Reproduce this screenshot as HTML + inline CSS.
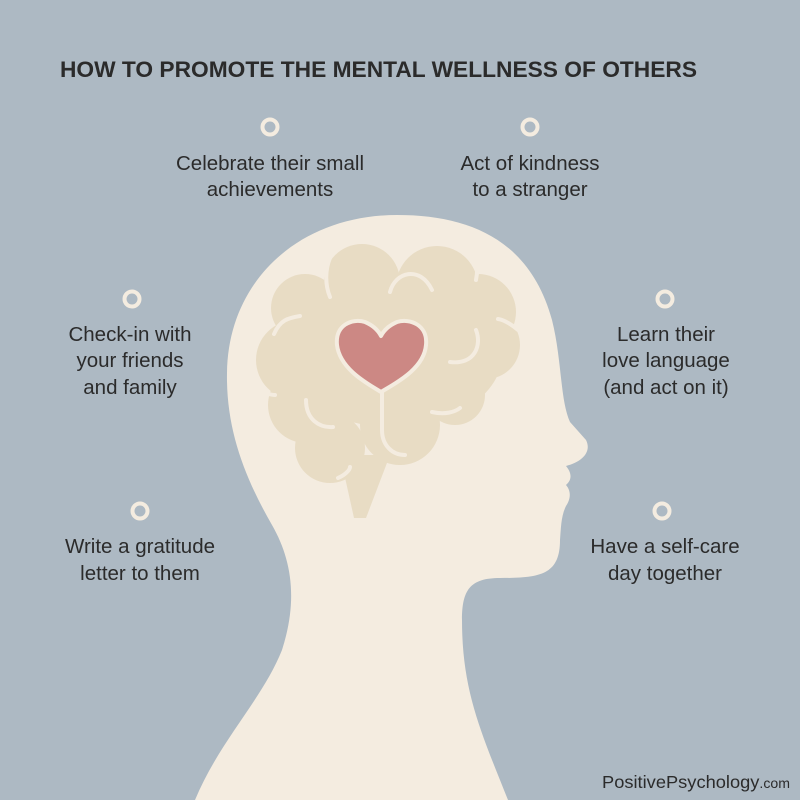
<!DOCTYPE html>
<html><head><meta charset="utf-8"><style>
html,body{margin:0;padding:0;background:#adb9c3;}
svg{display:block;}
text{font-family:"Liberation Sans",sans-serif;fill:#2b2b2b;}
</style></head><body>
<svg width="800" height="800" viewBox="0 0 800 800">
<rect width="800" height="800" fill="#adb9c3"/>
<path d="M397,215 C470,215 530,240 552,320 C562,360 560,400 570,422 L586,440 C592,452 582,462 566,466 C571,472 573,479 566,485 C572,492 570,500 566,506 C561,516 561,528 560,540 C560,575 540,578 500,578 C470,578 462,590 462,620 C462,690 480,730 508,800 L195,800 C220,740 262,700 282,650 C298,600 292,560 272,525 C245,478 226,430 227,373 C228,280 300,215 397,215 Z" fill="#f4ece0"/>
<g fill="#e8dcc4">
<ellipse cx="392" cy="355" rx="110" ry="72"/>
<circle cx="362" cy="282" r="38"/>
<circle cx="437" cy="287" r="41"/>
<circle cx="478" cy="312" r="38"/>
<circle cx="486" cy="345" r="34"/>
<circle cx="305" cy="308" r="34"/>
<circle cx="296" cy="360" r="40"/>
<circle cx="306" cy="405" r="38"/>
<circle cx="330" cy="448" r="35"/>
<circle cx="400" cy="425" r="40"/>
<circle cx="455" cy="395" r="30"/>
<polygon points="340,455 390,455 366,518 354,518"/>
</g>
<g fill="none" stroke="#f4ece0" stroke-width="4" stroke-linecap="round">
<path d="M330,297 C325,285 325,270 330,258"/>
<path d="M390,292 C395,272 420,265 432,290"/>
<path d="M476,280 C478,270 477,260 475,253"/>
<path d="M498,319 C505,320 512,325 518,330"/>
<path d="M476,330 C482,345 475,365 450,362"/>
<path d="M274,334 C280,320 288,318 300,316"/>
<path d="M255,390 C262,392 270,395 275,395"/>
<path d="M306,400 C306,420 320,428 333,427"/>
<path d="M432,412 C445,415 455,412 460,408"/>
<path d="M338,478 C345,475 350,470 350,467"/>
<path d="M382,392 L382,430 C382,445 392,455 405,455"/>
</g>
<path d="M381,392 C370,385 340,370 337,345 C335,325 352,318 365,322 C372,325 378,330 381,336 C384,330 390,325 397,322 C410,318 428,325 426,345 C424,370 392,385 381,392 Z" fill="#cc8884" stroke="#f4ece0" stroke-width="4" stroke-linejoin="round"/>
<text x="60" y="77" font-size="22" font-weight="bold" textLength="637" lengthAdjust="spacingAndGlyphs">HOW TO PROMOTE THE MENTAL WELLNESS OF OTHERS</text>
<g fill="none" stroke="#f4ece0" stroke-width="4">
<circle cx="270" cy="127" r="7.5"/>
<circle cx="530" cy="127" r="7.5"/>
<circle cx="132" cy="299" r="7.5"/>
<circle cx="665" cy="299" r="7.5"/>
<circle cx="140" cy="511" r="7.5"/>
<circle cx="662" cy="511" r="7.5"/>
</g>
<g font-size="20.5" text-anchor="middle">
<text x="270" y="170">Celebrate their small</text>
<text x="270" y="196">achievements</text>
<text x="530" y="170">Act of kindness</text>
<text x="530" y="196">to a stranger</text>
<text x="130" y="341">Check-in with</text>
<text x="130" y="367">your friends</text>
<text x="130" y="394">and family</text>
<text x="666" y="341">Learn their</text>
<text x="666" y="367">love language</text>
<text x="666" y="394">(and act on it)</text>
<text x="140" y="553">Write a gratitude</text>
<text x="140" y="580">letter to them</text>
<text x="665" y="553">Have a self-care</text>
<text x="665" y="580">day together</text>
</g>
<text x="602" y="788" font-size="17.5" textLength="188" lengthAdjust="spacingAndGlyphs">PositivePsychology<tspan font-size="13.5">.com</tspan></text>
</svg>
</body></html>
